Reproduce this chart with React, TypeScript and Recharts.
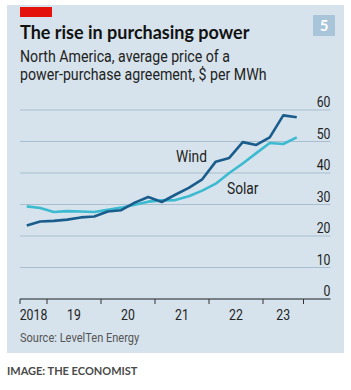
import React from 'react';
import { LineChart, Line, XAxis, YAxis, CartesianGrid } from 'recharts';

const quarters = ['2018Q3','2018Q4','2019Q1','2019Q2','2019Q3','2019Q4','2020Q1','2020Q2','2020Q3','2020Q4','2021Q1','2021Q2','2021Q3','2021Q4','2022Q1','2022Q2','2022Q3','2022Q4','2023Q1','2023Q2','2023Q3'];
const wind = [23.3,24.6,24.8,25.2,25.9,26.2,27.8,28.2,30.6,32.4,30.8,33.1,35.3,38.0,43.6,44.8,49.8,48.9,51.3,58.3,57.7];
const solar = [29.4,28.9,27.6,27.9,27.8,27.6,28.3,29.0,29.9,30.9,31.3,31.4,32.6,34.4,36.6,40.0,43.0,46.3,49.5,49.2,51.3];
const yearBoundaries = [0, 2, 6, 10, 14, 18, 21];
const yearLabelPos = [1, 4, 8, 12, 16, 19.5];
const yearLabels = ['2018', '19', '20', '21', '22', '23'];
const yTicks = [0, 10, 20, 30, 40, 50, 60];

const data = quarters.map((q, i) => ({ q, x: i + 0.5, wind: wind[i], solar: solar[i] }));

const NARROW = '"Roboto", sans-serif';
const SANS = '"Lato", "Roboto", sans-serif';
const DIGIT_W = 6.9;

const XTick = (props: any) => {
  const { x, y, payload } = props;
  const v = payload.value;
  const li = yearLabelPos.indexOf(v);
  if (li >= 0) {
    const s = yearLabels[li];
    return (
      <text x={x} y={y + 21} textAnchor="middle" fontSize={14.5} fill="#222" fontFamily={NARROW}
        textLength={s.length * DIGIT_W} lengthAdjust="spacingAndGlyphs">
        {s}
      </text>
    );
  }
  return <line x1={x} x2={x} y1={y} y2={y + 5} stroke="#333" strokeWidth={1} />;
};

const YTick = (props: any) => {
  const { x, y, payload } = props;
  const s = String(payload.value);
  return (
    <text x={x} y={y - 3} textAnchor="end" fontSize={14.5} fill="#222" fontFamily={NARROW}
      textLength={s.length * DIGIT_W} lengthAdjust="spacingAndGlyphs">
      {s}
    </text>
  );
};

const cond = (scale: number): React.CSSProperties => ({ transform: `scaleX(${scale})`, transformOrigin: 'left top', display: 'inline-block', whiteSpace: 'nowrap' });

export default function App() {
  return (
    <div style={{ position: 'absolute', left: 0, top: 0, width: 351, height: 390, background: '#fff', overflow: 'hidden' }}>
      <div style={{ position: 'absolute', left: 7, top: 5, width: 337, height: 348, background: '#d6e3ec' }} />
      <div style={{ position: 'absolute', left: 20, top: 7, width: 32, height: 10, background: '#e3120b' }} />
      <div style={{ position: 'absolute', left: 313, top: 15, width: 22, height: 21, background: '#a8c5da', color: '#fff', fontFamily: SANS, fontWeight: 700, fontSize: 15, lineHeight: '21px', textAlign: 'center' }}>5</div>
      <div style={{ position: 'absolute', left: 20, top: 22, fontFamily: SANS, fontWeight: 700, fontSize: 18, color: '#121212', whiteSpace: 'nowrap', lineHeight: '20px' }}>The rise in purchasing power</div>
      <div style={{ position: 'absolute', left: 20, top: 48, fontFamily: NARROW, fontSize: 16, color: '#222', lineHeight: '18px', ...cond(0.885) }}>
        North America, average price of a<br />power-purchase agreement, $ per MWh
      </div>
      <div style={{ position: 'absolute', left: 0, top: 0 }}>
        <LineChart width={351} height={390} data={data} margin={{ top: 110, right: 0.5, bottom: 61, left: 20 }}>
          <CartesianGrid vertical={false} stroke="#a9bfcf" strokeWidth={1} />
          <XAxis
            dataKey="x"
            type="number"
            domain={[0, 23]}
            ticks={[...yearBoundaries, ...yearLabelPos].sort((a, b) => a - b)}
            interval={0}
            tick={<XTick />}
            tickLine={false}
            tickSize={0}
            tickMargin={0}
            axisLine={{ stroke: '#333', strokeWidth: 1 }}
            height={30}
            allowDecimals
          />
          <YAxis
            orientation="right"
            domain={[0, 60]}
            ticks={yTicks}
            interval={0}
            width={20}
            tick={<YTick />}
            tickLine={false}
            tickSize={0}
            tickMargin={0}
            axisLine={false}
          />
          <Line dataKey="solar" stroke="#3cbad0" strokeWidth={2.6} dot={false} isAnimationActive={false} strokeLinejoin="round" />
          <Line dataKey="wind" stroke="#1a5d8c" strokeWidth={2.6} dot={false} isAnimationActive={false} strokeLinejoin="round" />
        </LineChart>
      </div>
      <div style={{ position: 'absolute', left: 176, top: 148, fontFamily: NARROW, fontSize: 16, color: '#222', lineHeight: '18px', ...cond(0.86) }}>Wind</div>
      <div style={{ position: 'absolute', left: 227, top: 180, fontFamily: NARROW, fontSize: 16, color: '#222', lineHeight: '18px', ...cond(0.86) }}>Solar</div>
      <div style={{ position: 'absolute', left: 20, top: 330, fontFamily: NARROW, fontSize: 13, color: '#555', lineHeight: '15px', ...cond(0.85) }}>Source: LevelTen Energy</div>
      <div style={{ position: 'absolute', left: 7, top: 364, fontFamily: SANS, fontWeight: 700, fontSize: 11, color: '#4a4a4a', whiteSpace: 'nowrap', lineHeight: '14px' }}>IMAGE: THE ECONOMIST</div>
    </div>
  );
}
